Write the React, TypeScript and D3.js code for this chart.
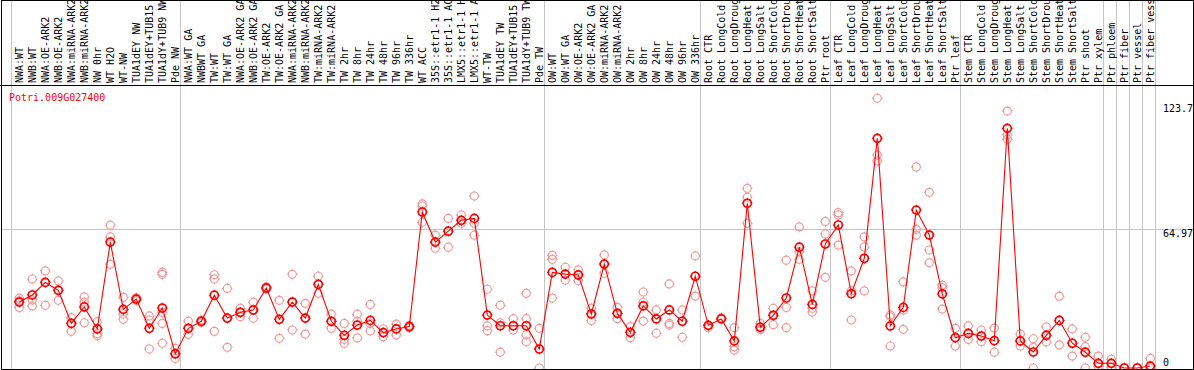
import React from "react";
import * as d3 from "d3";

const title = "Potri.009G027400";

const categories: string[] = [
  "NWA:WT", "NWB:WT", "NWA:OE-ARK2", "NWB:OE-ARK2", "NWA:miRNA-ARK2", "NWB:miRNA-ARK2",
  "NW 0hr", "WT H2O", "WT-NW", "TUA1dEY NW", "TUA1dEY+TUB15 NW", "TUA1dY+TUB9 NW", "Pde NW",
  "NWA:WT GA", "NWBWT GA", "TW:WT", "TW:WT GA", "NWA:OE-ARK2 GA", "NWB:OE-ARK2 GA",
  "TW:OE-ARK2", "TW:OE-ARK2 GA", "NWA:miRNA-ARK2 GA", "NWB:miRNA-ARK2 GA", "TW:miRNA-ARK2",
  "TW:miRNA-ARK2", "TW 2hr", "TW 8hr", "TW 24hr", "TW 48hr", "TW 96hr", "TW 336hr", "WT ACC",
  "35S::etr1-1 H2O", "35S::etr1-1 ACC", "LMX5::etr1-1 H2O", "LMX5::etr1-1 ACC", "WT-TW",
  "TUA1dEY TW", "TUA1dEY+TUB15 TW", "TUA1dY+TUB9 TW", "Pde TW",
  "OW:WT", "OW:WT GA", "OW:OE-ARK2", "OW:OE-ARK2 GA", "OW:miRNA-ARK2", "OW:miRNA-ARK2",
  "OW 2hr", "OW 8hr", "OW 24hr", "OW 48hr", "OW 96hr", "OW 336hr",
  "Root CTR", "Root LongCold", "Root LongDrought", "Root LongHeat", "Root LongSalt",
  "Root ShortCold", "Root ShortDrought", "Root ShortHeat", "Root ShortSalt", "Ptr root",
  "Leaf CTR", "Leaf LongCold", "Leaf LongDrought", "Leaf LongHeat", "Leaf LongSalt",
  "Leaf ShortCold", "Leaf ShortDrought", "Leaf ShortHeat", "Leaf ShortSalt", "Ptr leaf",
  "Stem CTR", "Stem LongCold", "Stem LongDrought", "Stem LongHeat", "Stem LongSalt",
  "Stem ShortCold", "Stem ShortDrought", "Stem ShortHeat", "Stem ShortSalt", "Ptr shoot",
  "Ptr xylem", "Ptr phloem", "Ptr fiber", "Ptr vessel", "Ptr fiber vessel",
];

// index at which each experiment group starts (vertical separators)
const groupStarts: number[] = [0, 13, 41, 53, 63, 73, 84, 85, 86, 87, 88];

const means: number[] = [
  30.9, 34.2, 40.1, 36.4, 20.9, 28.6, 18.3, 59.0, 27.5, 32.3, 18.6, 28.1, 6.7,
  18.6, 21.9, 34.1, 23.4, 26.1, 27.2, 37.5, 22.8, 30.9, 23.4, 39.2, 21.9, 15.3, 20.1,
  22.3, 16.6, 18.3, 19.4, 73.1, 59.0, 64.1, 69.2, 70.1, 24.8, 19.8, 19.8, 19.8, 8.9,
  44.8, 44.0, 43.6, 25.3, 48.7, 25.6, 16.7, 29.1, 23.0, 27.2, 21.9, 43.0,
  20.0, 23.0, 12.7, 77.2, 19.1, 24.7, 32.8, 56.6, 29.8, 58.1,
  67.0, 34.8, 51.4, 107.6, 19.7, 28.4, 74.0, 62.3, 34.7, 14.2,
  16.2, 15.0, 12.8, 112.3, 12.7, 7.5, 15.3, 22.3, 11.6, 7.4, 2.2,
  2.2, 0, 0, 0.9,
];

const replicates: number[][] = [
  [32.7, 31.5, 28.3], [41.7, 31.9, 29.1], [45.5, 40.1, 29.4], [40.8, 36.5, 31.7],
  [23.6, 21, 17.2], [33.3, 30.9, 21.2], [21.7, 18.3, 16.1, 15.1], [66.9, 61.4, 48.6],
  [33.1, 25.3, 22.8], [33.0, 32.3, 31.6], [24.4, 22.5, 8.9], [44.8, 43.9, 26.1, 20.9, 11.6],
  [9.2, 6.5, 4.5],
  [21.9, 18.6, 15.8], [22.5, 21.9, 21.3], [43.7, 41.7, 17.2], [37.3, 23.3, 9.7],
  [28, 26.1, 24], [30.8, 27.2, 23.3], [38, 37.5, 37], [31.7, 22.8, 13.9],
  [43.9, 30.9, 17.8], [30.3, 23.4, 15.9], [43, 39.2, 35], [25.2, 21.9, 18.6],
  [20.9, 13.4, 11.6], [25.2, 21.9, 14.1], [29.8, 20.9, 17.3], [18.4, 16.6, 14.7],
  [20.6, 18.3, 15.5], [20, 19.4, 18.8], [76.9, 75.9, 68.3], [62.3, 59, 56.1],
  [70.1, 64.1, 56.6], [71.7, 69.2, 67.8], [80.6, 67.8, 62.2], [36.9, 19.7, 17.5],
  [29.4, 21.2, 7.4], [23.1, 19.8, 17.8], [35, 23.1, 15.5, 12.3], [18.6, 8.9, 0],
  [52.8, 50.9, 32.8], [47.2, 44, 41.2], [46, 43.6, 41], [28, 25.3, 22.2],
  [53, 48.7, 44.4], [28.4, 25.6, 23.1], [19.4, 16.7, 14.2], [35.6, 30.8, 22],
  [27.2, 23, 16.3], [39.4, 20.9, 20.1], [27.2, 21.9, 14.4], [52.5, 43, 33.7],
  [20, 19], [23.6, 23], [18.9, 10, 8.4], [84.2, 80, 67.8], [20.9, 19.1, 18],
  [28, 24.7, 20.3], [50.5, 28.4, 18.9], [66.1, 54.5, 50.9], [36.1, 28, 26.2],
  [68.7, 62.8, 42.5],
  [72.8, 71.7, 57.6], [45.5, 36.1, 22.5], [61.4, 56.7, 36.1], [126.4, 99.8, 97],
  [24.8, 24, 10.3], [40.4, 27.2, 18.1], [94.2, 65, 62.3], [82.3, 55.3, 49.3],
  [38.8, 37.6, 27.6], [18.6, 14.2, 10.3],
  [19.7, 16.2, 13.4], [17.8, 15, 12.3], [18.7, 12.8, 7.4], [120.4, 109.2, 107.2],
  [15.9, 12.7, 10.3], [13.7, 9.7, 0], [19.2, 15.3, 12.2], [33.6, 22.3, 10.8],
  [18.3, 11.6, 5.6], [14.4, 10, 0], [5.6, 2.2, 0.6],
  [4.1, 2.2, 0.3], [0, 0, 0], [0, 0, 0], [4.5, 0.9, 0],
];

const yTickValues: number[] = [0, 64.97, 123.7];
const yTickLabels: string[] = ["0", "64.97", "123.7"];

const W = 1194;
const H = 370;
const FONT = "'DejaVu Sans Mono', 'Liberation Mono', monospace";
const MEAN_COLOR = "#ff0000";
const REP_COLOR = "#f09a9a";
const GRID = "#c4c4c4";

function Marker({ cx, cy, color, sw }: { cx: number; cy: number; color: string; sw: number }) {
  const r = 4;
  const t = 1.3;
  return (
    <g>
      <circle cx={cx} cy={cy} r={r} fill="none" stroke={color} strokeWidth={sw} />
      <path
        d={`M${cx},${cy - r - t}V${cy - r}M${cx},${cy + r}V${cy + r + t}M${cx - r - t},${cy}H${cx - r}M${cx + r},${cy}H${cx + r + t}`}
        stroke={color}
        strokeWidth={1}
      />
    </g>
  );
}

export default function App() {
  const x = d3.scaleLinear().domain([0, categories.length - 1]).range([19.3, 19.3 + 13 * (categories.length - 1)]);
  const y = d3.scaleLinear().domain([0, 123.7]).range([368, 104]);
  const line = d3
    .line<number>()
    .x((_, i) => x(i))
    .y((d) => y(d));

  return (
    <svg
      width={W}
      height={H}
      style={{ position: "absolute", left: 0, top: 0, background: "#fff" }}
      fontFamily={FONT}
    >
      <rect x={0} y={0} width={W} height={H} fill="#fff" />
      {/* vertical group separators */}
      {groupStarts.map((k) => {
        const gx = Math.round(x(k) - 8.6) + 0.5;
        return <line key={"g" + k} x1={gx} x2={gx} y1={0} y2={H} stroke={GRID} strokeWidth={1} />;
      })}
      {/* horizontal mid gridline */}
      <line x1={1} x2={1193} y1={Math.floor(y(yTickValues[1])) + 0.5} y2={Math.floor(y(yTickValues[1])) + 0.5} stroke={GRID} strokeWidth={1} />
      {/* header separator */}
      <line x1={0} x2={W} y1={85.5} y2={85.5} stroke="#000" strokeWidth={1} />
      {/* category labels */}
      {categories.map((c, i) => (
        <text
          key={"c" + i}
          transform={`translate(${x(i) + 3.6},83) rotate(-90)`}
          textAnchor="start"
          fontSize={10}
          fill="#000"
        >
          {c}
        </text>
      ))}
      {/* title */}
      <text x={9} y={101} fontSize={10} fill="#ff0000">
        {title}
      </text>
      {/* y tick labels */}
      {yTickValues.map((v, i) => {
        const top = y(v);
        const base = Math.min(top + 7.8, 366);
        return (
          <text key={"y" + i} x={1163} y={base} fontSize={10} fill="#000">
            {yTickLabels[i]}
          </text>
        );
      })}
      {/* replicate points */}
      <g>
        {replicates.map((reps, i) =>
          reps.map((v, j) => <Marker key={`r${i}-${j}`} cx={x(i)} cy={y(v)} color={REP_COLOR} sw={1.2} />)
        )}
      </g>
      {/* mean line */}
      <path d={line(means) || ""} fill="none" stroke={MEAN_COLOR} strokeWidth={1.1} />
      <g>
        {means.map((v, i) => (
          <Marker key={"m" + i} cx={x(i)} cy={y(v)} color={MEAN_COLOR} sw={1.7} />
        ))}
      </g>
      {/* frame */}
      <rect x={1.5} y={0.5} width={1192} height={369} fill="none" stroke="#000" strokeWidth={1} />
    </svg>
  );
}
